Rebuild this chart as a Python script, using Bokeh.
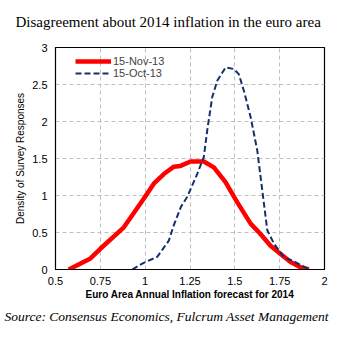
from bokeh.plotting import figure
from bokeh.models import Title, FixedTicker, Legend, LegendItem
from bokeh.embed import file_html
from bokeh.resources import INLINE

red_x = [0.574, 0.695, 0.75, 0.881, 0.992, 1.048, 1.104, 1.16, 1.197, 1.253, 1.327, 1.383,
         1.448, 1.513, 1.588, 1.643, 1.699, 1.755, 1.811, 1.866, 1.913]
red_y = [0.0, 0.15, 0.28, 0.57, 0.955, 1.16, 1.29, 1.39, 1.40, 1.46, 1.46, 1.38,
         1.18, 0.91, 0.62, 0.48, 0.32, 0.21, 0.10, 0.03, 0.0]

blue_x = [0.928, 0.992, 1.067, 1.132, 1.16, 1.2, 1.234, 1.29, 1.327, 1.346, 1.374, 1.402,
          1.448, 1.494, 1.522, 1.55, 1.588, 1.625, 1.653, 1.681, 1.718, 1.773, 1.829, 1.876, 1.913]
blue_y = [0.0, 0.09, 0.17, 0.39, 0.6, 0.85, 0.98, 1.29, 1.52, 1.88, 2.33, 2.55,
          2.73, 2.71, 2.64, 2.42, 2.06, 1.61, 1.07, 0.53, 0.35, 0.17, 0.11, 0.05, 0.0]

x_ticks = [0.5, 0.75, 1.0, 1.25, 1.5, 1.75, 2.0]
x_tick_labels = ["0.5", "0.75", "1", "1.25", "1.5", "1.75", "2"]
y_ticks = [0, 0.5, 1, 1.5, 2, 2.5, 3]
y_tick_labels = ["0", "0.5", "1", "1.5", "2", "2.5", "3"]

p = figure(width=356, height=358, x_range=(0.5, 2.0), y_range=(0, 3),
           output_backend="svg", toolbar_location=None,
           min_border_left=55, min_border_right=32, min_border_top=47, min_border_bottom=89)
p.background_fill_color = "white"
p.border_fill_color = "white"
p.outline_line_color = "black"
p.outline_line_width = 1.2

# spacer between the title and the plot frame
p.add_layout(Title(text=" ", text_font="Liberation Serif", text_font_size="15px",
                   standoff=0), "above")
p.add_layout(Title(text="Disagreement about 2014 inflation in the euro area",
                   text_font="Liberation Serif", text_font_size="15px",
                   text_font_style="normal", text_color="black", align="left",
                   offset=-40, standoff=0), "above")

p.add_layout(Title(text="Source: Consensus Economics, Fulcrum Asset Management",
                   text_font="Liberation Serif", text_font_size="13.5px",
                   text_font_style="italic", text_color="black", align="left",
                   offset=-51, standoff=9), "below")

for ax in (p.xaxis[0], p.yaxis[0]):
    ax.major_label_text_font = "Liberation Sans"
    ax.major_label_text_font_size = "11px"
    ax.major_label_text_color = "black"
    ax.major_tick_in = 0
    ax.major_tick_out = 0
    ax.minor_tick_in = 0
    ax.minor_tick_out = 0
    ax.axis_line_color = "black"
    ax.axis_label_text_font = "Liberation Sans"
    ax.axis_label_text_font_size = "10px"
    ax.axis_label_text_color = "black"

p.xaxis.ticker = FixedTicker(ticks=x_ticks)
p.xaxis.major_label_overrides = dict(zip(x_ticks, x_tick_labels))
p.yaxis.ticker = FixedTicker(ticks=y_ticks)
p.yaxis.major_label_overrides = dict(zip(y_ticks, y_tick_labels))
p.xaxis.axis_label = "Euro Area Annual Inflation forecast for 2014"
p.xaxis.axis_label_text_font_style = "bold"
p.xaxis.major_label_standoff = 7
p.xaxis.axis_label_standoff = 1
p.yaxis.axis_label = "Density of Survey Responses"
p.yaxis.axis_label_text_font_style = "normal"
p.yaxis.major_label_standoff = 8
p.yaxis.axis_label_standoff = 3

p.grid.grid_line_color = "#bfbfbf"
p.grid.grid_line_dash = "4 3"
p.grid.grid_line_width = 1

r_red = p.line(red_x, red_y, line_color="#ff0000", line_width=4.5)
r_blue = p.line(blue_x, blue_y, line_color="#14306a", line_width=2, line_dash="6 3")

legend = Legend(items=[LegendItem(label="15-Nov-13", renderers=[r_red]),
                       LegendItem(label="15-Oct-13", renderers=[r_blue])],
                location=(20, 190), border_line_alpha=0, background_fill_alpha=0,
                label_text_font="Liberation Sans", label_text_font_size="11px",
                glyph_width=36, glyph_height=12, label_height=12, spacing=0,
                padding=0, margin=0, label_standoff=2)
p.add_layout(legend)

open("out.html", "w").write(file_html(p, INLINE))
